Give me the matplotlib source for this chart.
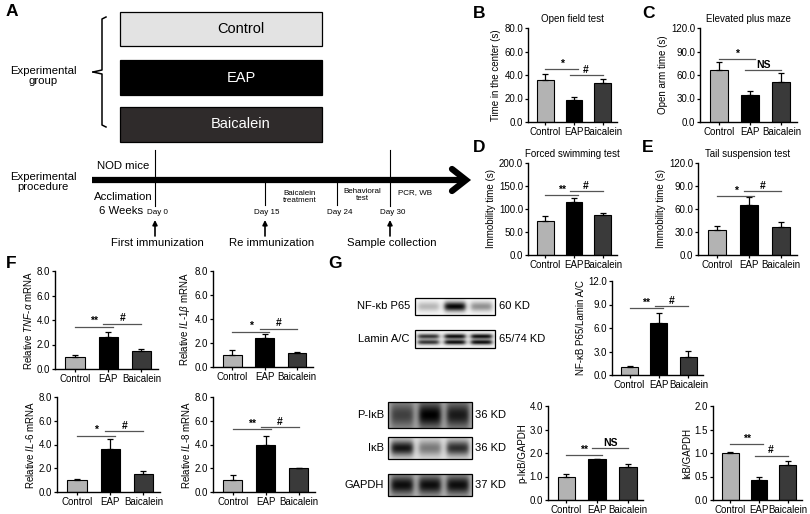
import numpy as np
import matplotlib
matplotlib.use('Agg')
import matplotlib.pyplot as plt
from matplotlib.patches import Rectangle
from matplotlib.ticker import FormatStrFormatter

plt.rcParams['font.family'] = ['Liberation Sans', 'DejaVu Sans']
plt.rcParams['mathtext.fontset'] = 'custom'
plt.rcParams['mathtext.rm'] = 'Liberation Sans'
plt.rcParams['mathtext.it'] = 'Liberation Sans:italic'

# ---------------- data ----------------
groups = ['Control', 'EAP', 'Baicalein']

open_field_mean = [36, 19, 33]
open_field_err = [5, 2, 4]
epm_mean = [67, 35, 51]
epm_err = [10, 5, 12]
fst_mean = [74, 116, 88]
fst_err = [10, 9, 3]
tst_mean = [32, 65, 37]
tst_err = [6, 11, 6]

tnf_mean = [1.0, 2.65, 1.5]
tnf_err = [0.15, 0.38, 0.15]
il1b_mean = [1.0, 2.45, 1.15]
il1b_err = [0.4, 0.3, 0.1]
il6_mean = [1.0, 3.6, 1.55]
il6_err = [0.06, 0.85, 0.2]
il8_mean = [1.0, 4.0, 2.0]
il8_err = [0.45, 0.7, 0.05]

p65_mean = [1.0, 6.7, 2.3]
p65_err = [0.2, 1.2, 0.8]
pikb_mean = [1.0, 1.73, 1.4]
pikb_err = [0.1, 0.03, 0.14]
ikb_mean = [1.0, 0.42, 0.75]
ikb_err = [0.02, 0.06, 0.07]

# significance annotations: (x_from, x_to, height, label)
sig_open_field = [(0, 1.15, 45, '*'), (0.85, 2, 40, '#')]
sig_epm = [(0, 1.15, 80, '*'), (0.85, 2, 66, 'NS')]
sig_fst = [(0, 1.15, 130, '**'), (0.85, 2, 139, '#')]
sig_tst = [(0, 1.15, 77, '*'), (0.85, 2, 83, '#')]
sig_tnf = [(0, 1.15, 3.45, '**'), (0.85, 2, 3.7, '#')]
sig_il1b = [(0, 1.15, 2.95, '*'), (0.85, 2, 3.2, '#')]
sig_il6 = [(0, 1.15, 4.75, '*'), (0.85, 2, 5.1, '#')]
sig_il8 = [(0, 1.15, 5.3, '**'), (0.85, 2, 5.45, '#')]
sig_p65 = [(0, 1.15, 8.5, '**'), (0.85, 2, 8.8, '#')]
sig_pikb = [(0, 1.15, 1.91, '**'), (0.85, 2, 2.2, 'NS')]
sig_ikb = [(0, 1.15, 1.19, '**'), (0.85, 2, 0.94, '#')]

# western blot band intensities (darkness per lane)
blot_p65 = [0.25, 0.95, 0.4]
blot_lamin = [0.75, 0.9, 0.9]
blot_pikb = [0.4, 0.65, 0.55]
blot_ikb = [0.8, 0.4, 0.7]
blot_gapdh = [0.65, 0.65, 0.65]

bar_colors = ['#b3b3b3', '#000000', '#3a3a3a']

W, H = 810, 514
fig = plt.figure(figsize=(W / 100, H / 100), dpi=100)

# overlay axes in pixel coordinates for schematic / labels
ov = fig.add_axes([0, 0, 1, 1])
ov.set_xlim(0, W)
ov.set_ylim(H, 0)
ov.axis('off')

FS = 7


def px_rect(x0, y0, x1, y1):
    return [x0 / W, 1 - y1 / H, (x1 - x0) / W, (y1 - y0) / H]


def bar_panel(box, means, errs, ymax, ystep, ylabel, sig, title=None, fmt='%.1f'):
    ax = fig.add_axes(px_rect(*box))
    x = np.arange(len(groups))
    ax.bar(x, means, width=0.58, color=bar_colors, edgecolor='black',
           linewidth=0.8, zorder=2)
    ax.errorbar(x, means, yerr=[np.zeros(len(errs)), errs], fmt='none',
                ecolor='black', elinewidth=0.9, capsize=2.3, capthick=0.9, zorder=3)
    ax.set_xlim(-0.6, 2.5)
    ax.set_ylim(0, ymax)
    ax.set_yticks(np.arange(0, ymax + ystep / 2, ystep))
    ax.yaxis.set_major_formatter(FormatStrFormatter(fmt))
    ax.set_xticks(x)
    ax.set_xticklabels(groups)
    for s in ['top', 'right']:
        ax.spines[s].set_visible(False)
    for s in ['left', 'bottom']:
        ax.spines[s].set_linewidth(1.0)
    ax.tick_params(axis='both', labelsize=FS, length=2.5, width=0.9, pad=1)
    ax.set_ylabel(ylabel, fontsize=FS, labelpad=2)
    if title:
        ax.set_title(title, fontsize=FS, pad=4)
    for (a, b, y, lab) in sig:
        ax.plot([a, b], [y, y], color='#555555', lw=0.9, zorder=4)
        ax.text((a + b) / 2, y + ymax * 0.005, lab, ha='center', va='bottom',
                fontsize=7.5, fontweight='bold')
    return ax


# Panels B-E
bar_panel((528, 28, 617, 122), open_field_mean, open_field_err, 80, 20,
          'Time in the center (s)', sig_open_field, 'Open field test')
bar_panel((700, 28, 797, 122), epm_mean, epm_err, 120, 30,
          'Open arm time (s)', sig_epm, 'Elevated plus maze')
bar_panel((528, 163, 617, 255), fst_mean, fst_err, 200, 50,
          'Immobility time (s)', sig_fst, 'Forced swimming test')
bar_panel((698, 163, 797, 255), tst_mean, tst_err, 120, 30,
          'Immobility time (s)', sig_tst, 'Tail suspension test')

# Panel F
bar_panel((55, 271, 158, 369), tnf_mean, tnf_err, 8, 2,
          r'Relative $\mathit{TNF}$-$\mathit{α}$ mRNA', sig_tnf)
bar_panel((213, 271, 313, 367), il1b_mean, il1b_err, 8, 2,
          r'Relative $\mathit{IL}$-$\mathit{1β}$ mRNA', sig_il1b)
bar_panel((57, 397, 160, 492), il6_mean, il6_err, 8, 2,
          r'Relative $\mathit{IL}$-$\mathit{6}$ mRNA', sig_il6)
bar_panel((213, 397, 315, 492), il8_mean, il8_err, 8, 2,
          r'Relative $\mathit{IL}$-$\mathit{8}$ mRNA', sig_il8)

# Panel G bar charts
bar_panel((612, 281, 703, 375), p65_mean, p65_err, 12, 3,
          'NF-κB P65/Lamin A/C', sig_p65)
bar_panel((548, 406, 643, 500), pikb_mean, pikb_err, 4, 1,
          'p-IκB/GAPDH', sig_pikb)
bar_panel((713, 406, 802, 500), ikb_mean, ikb_err, 2, 0.5,
          'IκB/GAPDH', sig_ikb)


# ---------------- western blots ----------------
def draw_blot(x0, y0, x1, y1, intens, centers, sigma, bg):
    nx, ny = 160, 50
    xs = np.linspace(0, 1, nx)
    ys = np.linspace(0, 1, ny)
    img = np.full((ny, nx), bg)
    for i, v in enumerate(intens):
        cx = (2 * i + 1) / 6
        hx = 1 / (1 + np.exp(-(xs - (cx - 0.13)) * 60)) * 1 / (1 + np.exp((xs - (cx + 0.13)) * 60))
        for cy in centers:
            vy = np.exp(-0.5 * ((ys - cy) / sigma) ** 2)
            img = img + v * np.outer(vy, hx)
    img = np.clip(1 - img, 0, 1)
    ov.imshow(img, cmap='gray', vmin=0, vmax=1, extent=[x0, x1, y1, y0],
              origin='upper', aspect='auto', interpolation='bilinear', zorder=2)
    ov.add_patch(Rectangle((x0, y0), x1 - x0, y1 - y0, fill=False,
                           edgecolor='black', lw=0.9, zorder=3))


draw_blot(415, 298, 495, 315, blot_p65, [0.5], 0.2, 0.03)
draw_blot(415, 330, 495, 348, blot_lamin, [0.35, 0.68], 0.1, 0.05)
draw_blot(388, 402, 472, 428, blot_pikb, [0.5], 0.35, 0.35)
draw_blot(388, 437, 472, 459, blot_ikb, [0.5], 0.25, 0.12)
draw_blot(388, 474, 472, 496, blot_gapdh, [0.5], 0.3, 0.3)
ov.set_xlim(0, W)
ov.set_ylim(H, 0)

fs_blot = 8
ov.text(410, 306, 'NF-κb P65', ha='right', va='center', fontsize=fs_blot)
ov.text(410, 339, 'Lamin A/C', ha='right', va='center', fontsize=fs_blot)
ov.text(499, 306, '60 KD', ha='left', va='center', fontsize=fs_blot)
ov.text(499, 339, '65/74 KD', ha='left', va='center', fontsize=fs_blot)
ov.text(384, 415, 'P-IκB', ha='right', va='center', fontsize=fs_blot)
ov.text(384, 448, 'IκB', ha='right', va='center', fontsize=fs_blot)
ov.text(384, 485, 'GAPDH', ha='right', va='center', fontsize=fs_blot)
ov.text(475, 415, '36 KD', ha='left', va='center', fontsize=fs_blot)
ov.text(475, 448, '36 KD', ha='left', va='center', fontsize=fs_blot)
ov.text(475, 485, '37 KD', ha='left', va='center', fontsize=fs_blot)

# ---------------- panel A schematic ----------------
box_specs = [('Control', 12, 46, '#e3e3e3', 'black'),
             ('EAP', 60, 95, '#000000', 'white'),
             ('Baicalein', 107, 142, '#2f2b2b', 'white')]
for lab, ya, yb, fc, tc in box_specs:
    ov.add_patch(Rectangle((120, ya), 202, yb - ya, facecolor=fc,
                           edgecolor='black', lw=0.9, zorder=2))
    ov.text(241, (ya + yb) / 2, lab, ha='center', va='center', fontsize=10.5,
            color=tc, zorder=3)

# bracket
ov.plot([106, 102, 102, 93], [17, 19, 70, 72], color='black', lw=1.1)
ov.plot([93, 102, 102, 106], [72, 74, 125, 127], color='black', lw=1.1)

fs_a = 8.2
ov.text(43, 76, 'Experimental\ngroup', ha='center', va='center', fontsize=fs_a,
        linespacing=1.1)
ov.text(43, 182, 'Experimental\nprocedure', ha='center', va='center', fontsize=fs_a,
        linespacing=1.1)

# timeline
ov.plot([92, 462], [180, 180], color='black', lw=4.5, solid_capstyle='butt')
ov.plot([452, 466, 452], [169, 180, 191], color='black', lw=4.5,
        solid_capstyle='round', solid_joinstyle='miter')
for xv, ya, yb in [(155, 150, 206), (265, 183, 205), (337, 183, 205), (390, 150, 206)]:
    ov.plot([xv, xv], [ya, yb], color='black', lw=0.8)

ov.text(97, 166, 'NOD mice', ha='left', va='center', fontsize=fs_a)
ov.text(123, 197, 'Acclimation', ha='center', va='center', fontsize=fs_a)
ov.text(121, 211, '6 Weeks', ha='center', va='center', fontsize=fs_a)
fs_d = 5.8
ov.text(157, 212, 'Day 0', ha='center', va='center', fontsize=fs_d)
ov.text(267, 212, 'Day 15', ha='center', va='center', fontsize=fs_d)
ov.text(340, 212, 'Day 24', ha='center', va='center', fontsize=fs_d)
ov.text(393, 212, 'Day 30', ha='center', va='center', fontsize=fs_d)
ov.text(300, 197, 'Baicalein\ntreatment', ha='center', va='center', fontsize=fs_d,
        linespacing=1.1)
ov.text(362, 195, 'Behavioral\ntest', ha='center', va='center', fontsize=fs_d,
        linespacing=1.1)
ov.text(415, 193, 'PCR, WB', ha='center', va='center', fontsize=fs_d)

for xv in [155, 265, 390]:
    ov.annotate('', xy=(xv, 220), xytext=(xv, 236),
                arrowprops=dict(arrowstyle='-|>', color='black', lw=1.2,
                                mutation_scale=7, shrinkA=0, shrinkB=0))
ov.text(157, 243, 'First immunization', ha='center', va='center', fontsize=fs_a)
ov.text(272, 243, 'Re immunization', ha='center', va='center', fontsize=fs_a)
ov.text(392, 243, 'Sample collection', ha='center', va='center', fontsize=fs_a)

# panel letters
for lab, xl, yl in [('A', 6, 12), ('B', 473, 14), ('C', 642, 14), ('D', 473, 147),
                    ('E', 642, 147), ('F', 6, 264), ('G', 328, 264)]:
    ov.text(xl, yl, lab, ha='left', va='center', fontsize=12.5, fontweight='bold')

fig.savefig('out.png', dpi=100)
